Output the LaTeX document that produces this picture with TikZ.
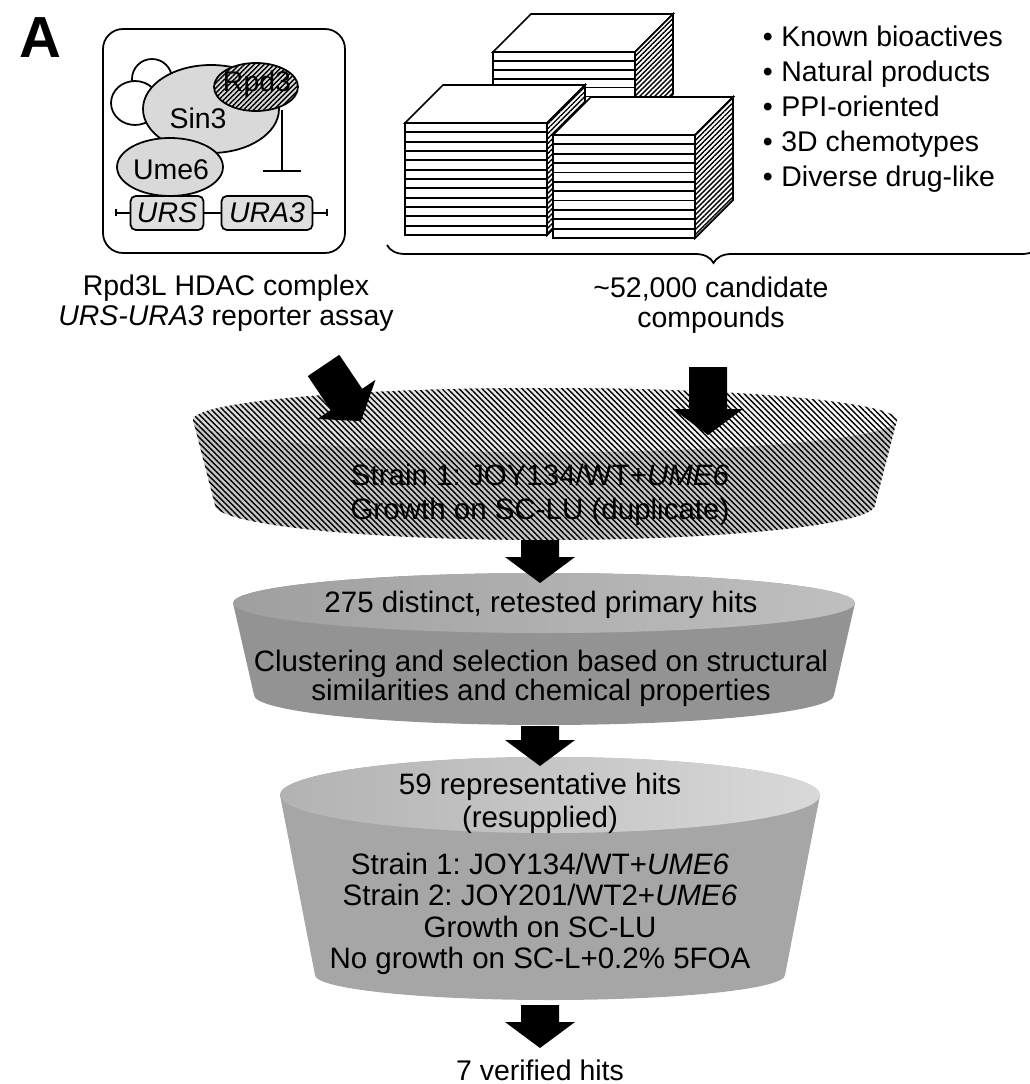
\documentclass[tikz,border=0pt]{standalone}
\usepackage{fontspec}
\setmainfont{Liberation Sans}
\frenchspacing
\usetikzlibrary{arrows.meta, patterns.meta, decorations.pathreplacing, positioning}
\tikzset{txt/.style = {font = \fontsize{16.2}{17}\selectfont, align = center, inner sep = 0pt}}
\tikzset{ftxt/.style = {font = \fontsize{16.8}{#1}\selectfont, align = center, inner sep = 0pt}}
\tikzset{gene/.style = {draw, fill = gray!25, rounded corners = 3pt, minimum height = 0.68cm, inner sep = 0pt, font = \fontsize{16.2}{17}\selectfont\itshape}}
\tikzset{hatch/.style = {postaction = {pattern = {Lines[angle = 45, distance = 2pt, line width = 0.8pt]}}}}
\tikzset{funnelA/.style = {left color = gray!45, middle color = white, right color = gray!45, postaction = {pattern = {Lines[angle = -45, distance = 2.3pt, line width = 0.8pt]}}}}
\tikzset{funnelAtop/.style = {left color = gray!30, right color = white, postaction = {pattern = {Lines[angle = -45, distance = 2.3pt, line width = 0.8pt]}}}}
\tikzset{funnelB/.style = {left color = gray!85, middle color = gray!45, right color = gray!85}}
\tikzset{funnelBtop/.style = {left color = gray!75, right color = gray!50}}
\tikzset{funnelC/.style = {left color = gray!70, middle color = gray!22, right color = gray!70}}
\tikzset{funnelCtop/.style = {left color = gray!60, right color = gray!30}}

% cube of plates: x, top, width, height, plates
\newcommand{\stack}[5]{%
	\filldraw[fill = white] (#1,#2) -- ++(38,-38) -- ++(#3,0) -- ({#1+#3},#2) -- cycle;
	\filldraw[fill = white, hatch] ({#1+#3},#2) -- ++(38,-38) -- ++(0,#4) -- ({#1+#3},{#2+#4}) -- cycle;
	\filldraw[fill = white] (#1,#2) rectangle ({#1+#3},{#2+#4});
	\foreach \k in {1,...,#5}
		\draw (#1,{#2+\k*#4/#5}) -- ({#1+#3},{#2+\k*#4/#5});
}
% funnel: cx, top y, top rx, top ry, bottom y, bottom rx, bottom ry, body style, top style
\newcommand{\funnel}[9]{%
	\shade[#8] ({#1-#3},#2) arc[start angle = 180, end angle = 360, x radius = #3, y radius = #4]
		-- ({#1+#6},#5) arc[start angle = 0, end angle = 180, x radius = #6, y radius = #7] -- cycle;
	\shade[#9] (#1,#2) ellipse [x radius = #3, y radius = #4];
}
% block arrow ending at a named tip: tip, rotation, shaft length
\newcommand{\bigarrow}[3]{%
	\fill[rotate around = {#2:(#1)}] (#1) -- ++(-35,-26) -- ++(16,0) -- ++(0,-#3) -- ++(38,0) -- ++(0,#3) -- ++(16,0) -- cycle;
}

\begin{document}
\begin{tikzpicture}[x = 0.02cm, y = -0.02cm, line width = 1pt]
	\useasboundingbox (0,0) rectangle (1029,1084);

	\node[font = \fontsize{33}{33}\selectfont\bfseries] (panel) at (40,38) {A};

	% reporter
	\draw[rounded corners = 0.4cm] (103,29) rectangle (345,253);
	\filldraw[fill = white] (152,79) circle [radius = 20];
	\filldraw[fill = white] (135,103) ellipse [x radius = 24, y radius = 22];
	\filldraw[fill = gray!30] (211,109) ellipse [x radius = 68, y radius = 44];
	\filldraw[fill = gray!30] (170,167) ellipse [x radius = 53, y radius = 29];
	\filldraw[fill = gray!30, hatch] (256,87) ellipse [x radius = 42, y radius = 24];
	\node[txt] (sin3) at (198,118) {Sin3};
	\node[txt] (rpd3) at (257,84) {Rpd3};
	\node[txt] (ume6) at (171,170) {Ume6};

	\coordinate (rpdfoot) at (282,110);
	\coordinate (target) at (282,172);
	\draw[-{Bar[width = 0.76cm]}] (rpdfoot) -- (target);

	\coordinate (dnaleft) at (115,213);
	\coordinate (dnaright) at (328,213);
	\node[gene, minimum width = 1.46cm] (urs) at (167,213) {URS};
	\node[gene, minimum width = 1.82cm] (ura3) at (267,213) {URA3};
	\draw[{Bar[width = 0.14cm]}-] (dnaleft) -- (urs);
	\draw (urs) -- (ura3);
	\draw[-{Bar[width = 0.14cm]}] (ura3) -- (dnaright);

	\node[txt, font = \fontsize{16.2}{17.2}\selectfont] (complex) at (226,303) {Rpd3L HDAC complex\\\textit{URS-URA3} reporter assay};

	% compound library
	\stack{493}{52}{142}{80}{9}
	\stack{405}{123}{142}{112}{12}
	\stack{553}{135}{142}{103}{11}

	\foreach \lib [count = \i] in {Known bioactives, Natural products, PPI-oriented, 3D chemotypes, Diverse drug-like}
		\node[txt, anchor = base west] (lib\i) at (762, {12+35*\i}) {\textbullet\hspace{0.3em}\lib};

	\draw[decorate, decoration = {brace, amplitude = 0.36cm}] (1040,245) -- (387,245);
	\node[txt, font = \fontsize{16.2}{17.2}\selectfont] (compounds) at (711,305) {\textasciitilde52,000 candidate\\compounds};

	% screening funnel
	\funnel{545}{420}{352}{32}{505}{330}{35}{funnelA}{funnelAtop}
	\funnel{544}{603}{311}{30}{695}{290}{30}{funnelB}{funnelBtop}
	\funnel{550}{795}{270}{38}{975}{235}{25}{funnelC}{funnelCtop}

	\node[ftxt = 19.4pt] (screen) at (540,495) {Strain 1: JOY134/WT+\textit{UME6}\\Growth on SC-LU (duplicate)};
	\node[ftxt = 17pt] (primary) at (541,605) {275 distinct, retested primary hits};
	\node[ftxt = 15.6pt] (cluster) at (541,678) {Clustering and selection based on structural\\similarities and chemical properties};
	\node[ftxt = 18.8pt] (reps) at (540,803) {59 representative hits\\(resupplied)};
	\node[ftxt = 17.9pt] (counter) at (540,914) {Strain 1: JOY134/WT+\textit{UME6}\\Strain 2: JOY201/WT2+\textit{UME6}\\Growth on SC-LU\\No growth on SC-L+0.2\% 5FOA};
	\node[txt] (verified) at (540,1070) {7 verified hits};

	\coordinate (tipassay) at (361,421);
	\coordinate (tiplib) at (708,435);
	\coordinate (tipprimary) at (540,583);
	\coordinate (tipreps) at (540,766);
	\coordinate (tipverified) at (540,1048);
	\bigarrow{tipassay}{34}{41}
	\bigarrow{tiplib}{0}{42}
	\bigarrow{tipprimary}{0}{17}
	\bigarrow{tipreps}{0}{14}
	\bigarrow{tipverified}{0}{17}
\end{tikzpicture}
\end{document}
